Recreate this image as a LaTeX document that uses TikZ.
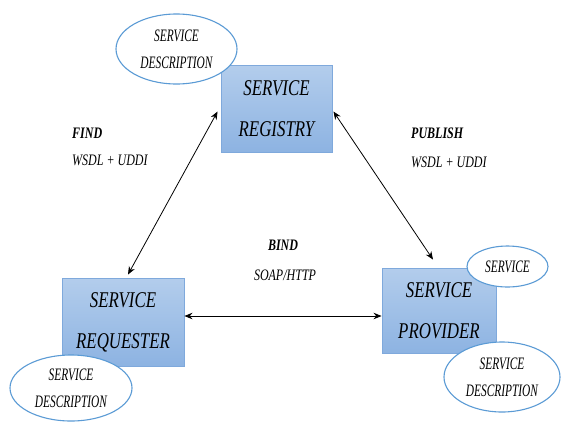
\documentclass[tikz,border=0pt]{standalone}
\usepackage{fontspec}
\setmainfont{Liberation Serif}
\newfontfamily\boxfont[FakeStretch=0.75]{Liberation Serif}
\newfontfamily\ellfont[FakeStretch=0.65]{Liberation Serif}
\usetikzlibrary{arrows.meta,calc}
\definecolor{boxtop}{HTML}{B3CDEC}
\definecolor{boxbot}{HTML}{8DB3E2}
\definecolor{boxline}{HTML}{7FA9DC}
\definecolor{ellline}{HTML}{5B9BD5}
\tikzset{
  svcbox/.style={rectangle, draw=boxline, line width=0.9pt, top color=boxtop, bottom color=boxbot,
    align=center, inner sep=0pt, font=\boxfont\itshape\fontsize{22.5}{41}\selectfont},
  svcell/.style={ellipse, draw=ellline, line width=1.1pt, fill=white, align=center, inner sep=0pt,
    font=\ellfont\itshape\fontsize{17.5}{27}\selectfont},
  lbl/.style={inner sep=0pt, align=left, font=\boxfont\itshape\fontsize{16}{27}\selectfont},
  lblb/.style={inner sep=0pt, align=left, font=\boxfont\bfseries\itshape\fontsize{16}{27}\selectfont},
  link/.style={line width=0.8pt, {Stealth[length=8pt,width=6.5pt]}-{Stealth[length=8pt,width=6.5pt]}}
}
\usetikzlibrary{shapes.geometric}
\begin{document}
\begin{tikzpicture}[x=1pt,y=-1pt]
\useasboundingbox (0,0) rectangle (561,421);
\fill[white] (0,0) rectangle (561,421);
% boxes
\node[svcbox, minimum width=111pt, minimum height=87pt] (reg) at (276.5,108.5) {SERVICE\\REGISTRY};
\node[svcbox, minimum width=122pt, minimum height=88pt] (req) at (123,322) {SERVICE\\REQUESTER};
\node[svcbox, minimum width=114pt, minimum height=85pt] (prov) at (439,310.5) {SERVICE\\PROVIDER};
% connectors
\coordinate (bindy) at (0,316);
\draw[link] ($(reg.west)+(-3,3)$) -- ($(req.north)+(5,-3)$);
\draw[link] ($(reg.east)+(1,3)$) -- ($(prov.north)+(-6,-8)$);
\draw[link] (req.east |- bindy) -- (prov.west |- bindy);
% ellipses
\node[svcell, minimum width=121pt, minimum height=70pt] (e1) at (176.5,49) {SERVICE\\DESCRIPTION};
\node[svcell, minimum width=122pt, minimum height=66pt] (e2) at (71,388) {SERVICE\\DESCRIPTION};
\node[svcell, minimum width=81pt, minimum height=41pt] (e3) at (507.5,266.5) {SERVICE};
\node[svcell, minimum width=116pt, minimum height=70pt] (e4) at (502,377) {SERVICE\\DESCRIPTION};
% labels
\node[lblb, anchor=west] (find) at (72,133) {FIND};
\node[lbl, anchor=west] (findp) at (72,160) {WSDL + UDDI};
\node[lblb, anchor=west] (pub) at (411,133) {PUBLISH};
\node[lbl, anchor=west] (pubp) at (411,162) {WSDL + UDDI};
\node[lblb] (bind) at (283,245) {BIND};
\node[lbl] (bindp) at (285,275) {SOAP/HTTP};
\end{tikzpicture}
\end{document}
